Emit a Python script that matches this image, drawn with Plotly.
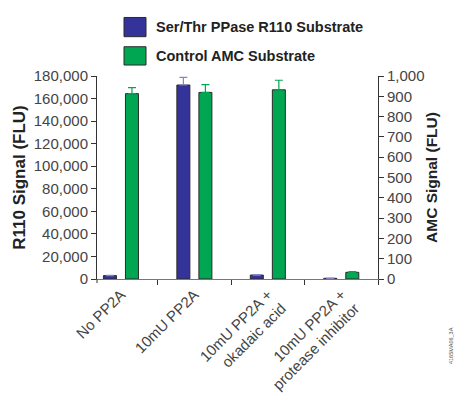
import plotly.graph_objects as go

# Assay conditions along the x axis
categories = ["No PP2A", "10mU PP2A", "10mU PP2A +<br>okadaic acid", "10mU PP2A +<br>protease inhibitor"]

# Ser/Thr PPase R110 substrate signal (left axis, FLU) and upper error
r110_signal = [3000, 172000, 3500, 600]
r110_error = [300, 6800, 500, 150]

# Control AMC substrate signal (right axis, FLU) and upper error
amc_signal = [913, 919, 932, 33]
amc_error = [30, 39, 47, 3]

series_names = ["Ser/Thr PPase R110 Substrate", "Control AMC Substrate"]

BLUE = "#333399"
GREEN = "#00a651"
OUTLINE = "#2a2a2a"
BAR_W = 0.177
HALF_SEP = 0.15

TICK_FONT = dict(family="Liberation Sans, Arial, sans-serif", size=15, color="#444444")
BOLD_FAMILY = "Liberation Sans, Arial, sans-serif"

fig = go.Figure()

fig.add_trace(go.Bar(
    x=categories, y=r110_signal, name=series_names[0],
    width=BAR_W, offset=-HALF_SEP - BAR_W / 2,
    marker=dict(color=BLUE, line=dict(color=OUTLINE, width=1)),
    error_y=dict(type="data", symmetric=False, array=r110_error,
                 arrayminus=[0] * len(r110_error),
                 color="#8585c6", thickness=1.2, width=4),
    yaxis="y", showlegend=False,
))

fig.add_trace(go.Bar(
    x=categories, y=amc_signal, name=series_names[1],
    width=BAR_W, offset=HALF_SEP - BAR_W / 2,
    marker=dict(color=GREEN, line=dict(color=OUTLINE, width=1)),
    error_y=dict(type="data", symmetric=False, array=amc_error,
                 arrayminus=[0] * len(amc_error),
                 color=GREEN, thickness=1.2, width=4),
    yaxis="y2", showlegend=False,
))

# Legend drawn as large swatches with bold labels above the plot
swatches = [(BLUE, 1.2883, 1.1937, 1.241), (GREEN, 1.1441, 1.0541, 1.099)]
shapes = []
annotations = []
for (color, y_top, y_bot, y_txt), label in zip(swatches, series_names):
    shapes.append(dict(type="rect", xref="paper", yref="paper",
                       x0=0.0961, x1=0.1744, y0=y_bot, y1=y_top,
                       fillcolor=color, line=dict(color=OUTLINE, width=1)))
    annotations.append(dict(xref="paper", yref="paper", x=0.2028, y=y_txt,
                            xanchor="left", yanchor="middle", showarrow=False,
                            text=f"<b>{label}</b>",
                            font=dict(family=BOLD_FAMILY, size=14.5, color="#222222")))

# Tick below the axis at the left end of the category axis
shapes.append(dict(type="line", xref="paper", yref="paper",
                   x0=0, x1=0, y0=0, y1=-0.02,
                   line=dict(color="#333333", width=1)))

# Figure reference code, set vertically at the lower right
annotations.append(dict(xref="paper", yref="paper", x=1.26, y=-0.33,
                        xanchor="center", yanchor="middle", showarrow=False,
                        text="4165MA06_3A", textangle=-90,
                        font=dict(family="Liberation Sans, Arial, sans-serif", size=5.5, color="#555555")))

fig.update_layout(
    width=454, height=405,
    margin=dict(l=97, r=76, t=76, b=107),
    paper_bgcolor="white", plot_bgcolor="white",
    barmode="overlay",
    shapes=shapes, annotations=annotations,
    xaxis=dict(
        type="category", range=[-0.326, 3.5],
        tickson="boundaries", ticks="outside", ticklen=5, tickcolor="#333333",
        tickangle=-45, tickfont=TICK_FONT,
        showline=True, linecolor="#777777", linewidth=1,
        showgrid=False, zeroline=False,
    ),
    yaxis=dict(
        range=[0, 180000], dtick=20000, tickformat=",",
        ticks="outside", ticklen=5, tickcolor="#333333",
        showline=True, linecolor="#333333", linewidth=1,
        showgrid=False, zeroline=False, tickfont=TICK_FONT,
        title=dict(text="<b>R110 Signal (FLU)</b>", standoff=3,
                   font=dict(family=BOLD_FAMILY, size=17, color="#222222")),
    ),
    yaxis2=dict(
        range=[0, 1000], dtick=100, tickformat=",",
        overlaying="y", side="right",
        ticks="outside", ticklen=5, tickcolor="#333333",
        showline=True, linecolor="#333333", linewidth=1,
        showgrid=False, zeroline=False, tickfont=TICK_FONT,
        title=dict(text="<b>AMC Signal (FLU)</b>", standoff=2,
                   font=dict(family=BOLD_FAMILY, size=15.5, color="#222222")),
    ),
)

fig.write_html("out.html")
